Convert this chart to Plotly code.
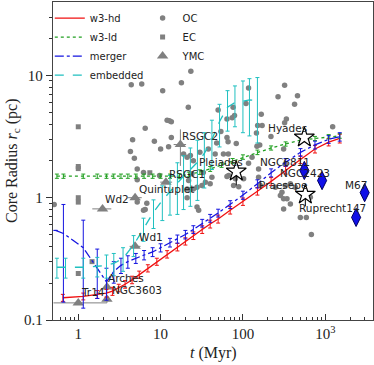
import numpy as np
import plotly.graph_objects as go

# ---------------- simulation tracks ----------------
t_hd = [0.65, 1.15, 1.7, 2.2, 2.6, 3.1, 3.7, 4.5, 5.5, 7, 9, 12, 16, 20, 25, 32, 40, 50, 70, 100, 150, 220, 330, 500, 750, 1100, 1500]
r_hd = [0.152, 0.156, 0.162, 0.166, 0.172, 0.183, 0.196, 0.213, 0.235, 0.265, 0.30, 0.345, 0.395, 0.44, 0.49, 0.55, 0.61, 0.67, 0.79, 0.93, 1.13, 1.36, 1.68, 2.05, 2.5, 2.85, 3.05]
e_hd = [0.01, 0.01, 0.012, 0.012, 0.013, 0.013, 0.014, 0.015, 0.016, 0.018, 0.02, 0.024, 0.028, 0.03, 0.035, 0.04, 0.045, 0.05, 0.055, 0.065, 0.08, 0.1, 0.12, 0.15, 0.18, 0.2, 0.25]

t_ld = [0.55, 0.66, 1.15, 1.7, 2.2, 2.7, 3.3, 4.0, 5.0, 6.3, 8, 10, 13, 17, 22, 30, 40, 55, 75, 100, 150, 220, 330, 500, 750, 1100, 1500]
r_ld = [1.5, 1.5, 1.5, 1.5, 1.5, 1.5, 1.5, 1.5, 1.5, 1.5, 1.5, 1.5, 1.5, 1.5, 1.55, 1.62, 1.72, 1.85, 2.0, 2.15, 2.35, 2.55, 2.75, 2.95, 3.05, 3.15, 3.2]
e_ld = [0.06, 0.06, 0.06, 0.06, 0.06, 0.06, 0.06, 0.06, 0.06, 0.06, 0.06, 0.06, 0.06, 0.07, 0.07, 0.07, 0.08, 0.08, 0.09, 0.09, 0.1, 0.1, 0.11, 0.12, 0.12, 0.13, 0.14]

t_mg = [0.53, 0.66, 1.15, 1.7, 2.2, 2.7, 3.3, 4.0, 5.0, 6.3, 8, 10, 13, 16, 20, 25, 32, 40, 50, 70, 100, 150, 220, 330, 500, 750, 1100, 1500]
r_mg = [0.54, 0.51, 0.39, 0.265, 0.205, 0.25, 0.28, 0.30, 0.32, 0.34, 0.36, 0.39, 0.43, 0.46, 0.50, 0.55, 0.62, 0.68, 0.75, 0.88, 1.05, 1.3, 1.6, 1.95, 2.35, 2.7, 3.0, 3.15]
e_mg = [0, 0.37, 0.265, 0.115, 0.06, 0.05, 0.04, 0.035, 0.03, 0.03, 0.03, 0.03, 0.035, 0.035, 0.04, 0.04, 0.045, 0.05, 0.055, 0.065, 0.08, 0.1, 0.12, 0.14, 0.17, 0.2, 0.22, 0.25]

t_em = [0.55, 0.7, 1.15, 1.7, 2.2, 2.7, 3.5, 4.7, 6.2, 8.2, 10.5, 13, 16, 19, 23, 28, 34, 42, 52, 65, 80, 100, 120, 150]
r_em = [0.27, 0.27, 0.27, 0.275, 0.28, 0.29, 0.32, 0.41, 0.56, 0.76, 0.95, 1.12, 1.33, 1.5, 1.7, 1.95, 2.3, 3.0, 4.2, 5.5, 6.0, 6.2, 6.3, 6.2]
e_em = [0.05, 0.05, 0.05, 0.05, 0.06, 0.06, 0.07, 0.08, 0.12, 0.2, 0.3, 0.4, 0.6, 0.7, 0.85, 1.0, 1.1, 1.3, 1.6, 2.0, 2.2, 2.8, 3.1, 3.4]

# ---------------- observed clusters ----------------
t_oc = [4.4, 5.9, 10.6, 17.9, 23.3, 21.7, 12.0, 12.8, 13.5, 6.5, 4.57, 8.4, 13.5, 10.0, 12.5, 4.3, 4.8, 19.0, 23.0,
        64, 54, 64, 48, 66.5, 50, 76, 117, 109, 167, 267, 321, 460, 424, 337, 74, 79, 321, 171, 151, 219, 146, 1230,
        66, 83, 160, 148, 117, 312, 38, 30, 58, 129, 21, 327, 33, 24, 42, 81, 102, 21.9, 31.8, 155, 163, 77, 25, 21,
        285, 312, 343, 298, 312, 498, 589, 89, 155, 377, 433, 248, 327, 377, 659, 678, 64, 5.2, 9.7, 5.2, 40, 67,
        29, 6.2, 6.8, 23, 6.2, 5.2, 6.5, 0.51, 25, 46, 35, 27.7, 21, 27.7]
r_oc = [8.4, 8.5, 7.5, 8.7, 10.8, 5.5, 4.3, 4.26, 4.18, 3.7, 2.98, 2.89, 3.11, 2.5, 2.61, 2.39, 2.1, 2.28, 2.21,
        4.4, 3.47, 3.11, 2.8, 2.28, 5.2, 5.5, 7.9, 5.9, 4.8, 6.7, 8.3, 6.8, 5.8, 4.4, 4.5, 4.7, 4.1, 3.9, 3.9, 3.17, 3.38, 3.8,
        2.87, 2.78, 2.7, 2.63, 1.91, 2.5, 2.5, 2.35, 2.28, 2.14, 2.14, 1.89, 1.61, 1.57, 1.47, 1.43, 1.43, 1.38, 1.26, 1.47, 1.26, 1.26, 1.18, 1.18,
        1.04, 0.98, 0.98, 1.11, 0.81, 0.69, 0.69, 1.23, 1.72, 1.3, 1.22, 1.22, 1.26, 0.89, 1.01, 0.50, 1.49, 1.72, 1.52, 1.4, 1.3, 1.52,
        0.79, 0.79, 0.90, 1.16, 1.61, 0.92, 0.80, 0.88, 2.0, 2.28, 1.34, 1.22, 1.0, 0.84]

t_ec = [1.0, 1.0, 1.0, 1.0, 1.0, 1.0, 1.47, 7.4]
r_ec = [3.8, 1.8, 1.73, 1.0, 0.92, 0.24, 0.30, 1.6]

ymc_names = ["Tr14", "NGC3603", "Arches", "Wd2", "Quintuplet", "Wd1", "RSGC1", "RSGC2"]
t_ymc = [1.0, 2.23, 2.23, 1.97, 4.9, 4.9, 11.6, 17.4]
r_ymc = [0.138, 0.148, 0.186, 0.81, 1.0, 0.40, 1.34, 2.72]
ex_plus = [1.23, 0.0, 0.0, 0.55, 1.0, 0.8, 2.2, 3.0]
ex_minus = [0.5, 0.0, 0.0, 0.49, 0.9, 0.7, 1.7, 3.0]
ey_ymc = [0.0, 0.01, 0.02, 0.0, 0.0, 0.0, 0.0, 0.9]
lab_t_ymc = [1.03, 2.45, 2.19, 2.01, 5.2, 5.2, 12.1, 17.4]
lab_r_ymc = [0.169, 0.177, 0.22, 0.97, 1.18, 0.474, 1.55, 3.21]

star_names = ["Hyades", "Pleiades", "Praesepe"]
t_star = [557, 83, 573]
r_star = [3.11, 1.64, 1.06]
ey_star = [0.1, 0.38, 0.21]
lab_t_star = [192, 27.9, 150]
lab_r_star = [3.73, 1.97, 1.26]

dia_names = ["NGC6811", "NGC2423", "M67", "Ruprecht147"]
t_dia = [557, 915, 3010, 2370]
r_dia = [1.67, 1.38, 1.1, 0.69]
lab_t_dia = [154, 269, 1660, 458]
lab_r_dia = [1.95, 1.6, 1.28, 0.82]

GRAY = "#808080"
fig = go.Figure()

fig.add_trace(go.Scatter(x=t_oc, y=r_oc, mode="markers", name="OC", legend="legend2",
                         marker=dict(symbol="circle", size=5.5, color=GRAY)))
fig.add_trace(go.Scatter(x=t_ec, y=r_ec, mode="markers", name="EC", legend="legend2",
                         marker=dict(symbol="square", size=5, color=GRAY)))
fig.add_trace(go.Scatter(x=t_ymc, y=r_ymc, mode="markers", name="YMC", legend="legend2",
                         marker=dict(symbol="triangle-up", size=10, color=GRAY),
                         error_x=dict(type="data", array=ex_plus, arrayminus=ex_minus, color=GRAY, thickness=1, width=0),
                         error_y=dict(type="data", array=ey_ymc, color=GRAY, thickness=1, width=0)))

def track(t, r, e, name, color, dash):
    fig.add_trace(go.Scatter(x=t, y=r, mode="lines", name=name, legend="legend",
                             line=dict(color=color, width=1.3, dash=dash),
                             error_y=dict(type="data", array=e, color=color, thickness=1, width=2)))

track(t_hd, r_hd, e_hd, "w3-hd", "#f01010", "solid")
track(t_ld, r_ld, e_ld, "w3-ld", "#22a022", "dot")
track(t_mg, r_mg, e_mg, "merger", "#1515e0", "dashdot")
track(t_em, r_em, e_em, "embedded", "#20c0c0", "dash")

fig.add_trace(go.Scatter(x=t_star, y=r_star, mode="markers", showlegend=False,
                         marker=dict(symbol="star", size=15, color="white", line=dict(color="black", width=1.2)),
                         error_y=dict(type="data", array=ey_star, color="black", thickness=1, width=0)))
fig.add_trace(go.Scatter(x=t_dia, y=r_dia, mode="markers", showlegend=False,
                         marker=dict(symbol="diamond-tall", size=13, color="#1010e8", line=dict(color="#000060", width=1))))

LF = dict(family="DejaVu Sans", size=10.5, color="#222")
for names, ts, rs in [(ymc_names, lab_t_ymc, lab_r_ymc), (star_names, lab_t_star, lab_r_star), (dia_names, lab_t_dia, lab_r_dia)]:
    for n, tt, rr in zip(names, ts, rs):
        fig.add_annotation(x=np.log10(tt), y=np.log10(rr), xref="x", yref="y", text=n, showarrow=False,
                           xanchor="left", yanchor="middle", font=LF)

SERIF = "Liberation Serif"
TF = dict(family=SERIF, size=16, color="#222")
fig.add_annotation(x=-0.128, y=0.5, xref="paper", yref="paper", text="Core Radius <i>r</i><sub>c</sub> (pc)",
                   textangle=-90, showarrow=False, xanchor="center", yanchor="middle", font=TF)
fig.add_annotation(x=0.5, y=-0.103, xref="paper", yref="paper", text="<i>t</i> (Myr)",
                   showarrow=False, xanchor="center", yanchor="middle", font=TF)

fig.update_layout(
    width=374, height=365,
    margin=dict(l=53, r=1, t=2, b=45, autoexpand=False),
    paper_bgcolor="white", plot_bgcolor="white",
    showlegend=True,
    legend=dict(x=-0.01, y=0.995, xanchor="left", yanchor="top", bgcolor="rgba(0,0,0,0)",
                font=dict(family="DejaVu Sans", size=10, color="#222"), tracegroupgap=0, itemwidth=30),
    legend2=dict(x=0.28, y=0.995, xanchor="left", yanchor="top", bgcolor="rgba(0,0,0,0)",
                 font=dict(family="DejaVu Sans", size=10, color="#222"), tracegroupgap=0, itemwidth=30),
)
fig.update_xaxes(type="log", range=[-0.307, 3.58], showgrid=False, zeroline=False, automargin=False,
                 showline=True, linecolor="#444", linewidth=1.3, mirror=True,
                 ticks="inside", ticklen=6, tickcolor="#333",
                 tickvals=[1, 10, 100, 1000], ticktext=["1", "10", "100", "10<sup>3</sup>"],
                 tickfont=dict(family=SERIF, size=15, color="#222"),
                 minor=dict(ticks="inside", ticklen=3, tickcolor="#333",
                            tickvals=[0.6, 0.7, 0.8, 0.9, 2, 3, 4, 5, 6, 7, 8, 9, 20, 30, 40, 50, 60, 70, 80, 90,
                                      200, 300, 400, 500, 600, 700, 800, 900, 2000, 3000]))
fig.update_yaxes(type="log", range=[-1, 1.6], showgrid=False, zeroline=False, automargin=False,
                 showline=True, linecolor="#444", linewidth=1.3, mirror=True,
                 ticks="outside", ticklen=6, tickcolor="#333",
                 tickvals=[0.1, 1, 10], ticktext=["0.1", "1", "10"],
                 tickfont=dict(family=SERIF, size=15, color="#222"),
                 minor=dict(ticks="outside", ticklen=3, tickcolor="#333",
                            tickvals=[0.2, 0.3, 0.4, 0.5, 0.6, 0.7, 0.8, 0.9, 2, 3, 4, 5, 6, 7, 8, 9, 20, 30]))

fig.write_html("out.html", config={"displayModeBar": False},
               post_script="document.body.style.margin='0px';document.body.style.padding='0px';")
